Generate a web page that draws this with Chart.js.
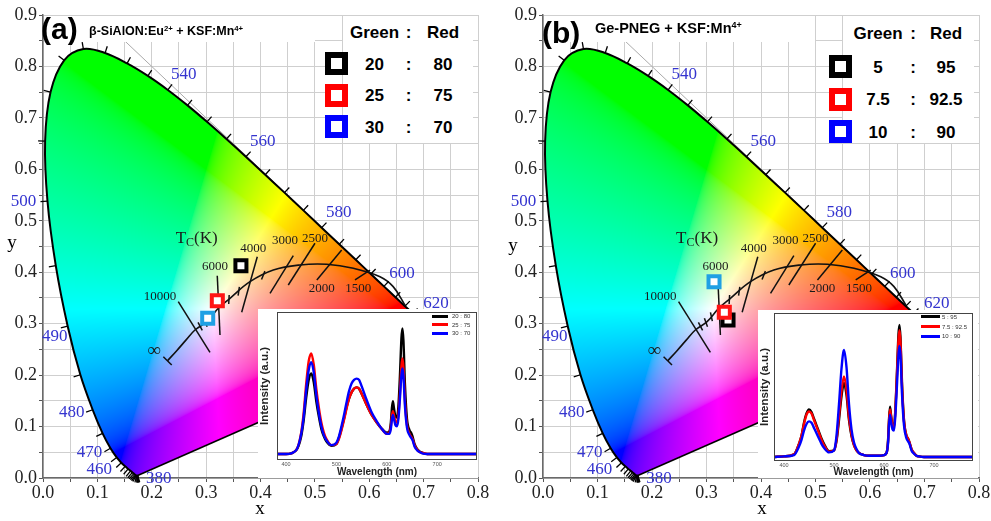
<!DOCTYPE html>
<html><head><meta charset="utf-8">
<script src="https://cdn.jsdelivr.net/npm/chart.js@4.4.1/dist/chart.umd.min.js"></script>
<style>
html,body{margin:0;padding:0;background:#fff}
body{width:991px;height:521px;position:relative;overflow:hidden;font-family:"Liberation Sans",Arial,sans-serif;color:#000}
canvas{position:absolute;display:block}
.o{position:absolute;white-space:nowrap;line-height:1}
.c{transform:translate(-50%,-50%)}
.l{transform:translate(0,-50%)}
.wb{position:absolute;background:#fff}
.sq{position:absolute;box-sizing:border-box;width:23px;height:23px;border:6.5px solid #000;background:#fff}
.lg{font-size:17px;font-weight:bold}
.serif{font-family:"Liberation Serif","Times New Roman",serif}
.il{position:absolute;height:3px}
.it{font-size:6px;color:#333}
sup{font-size:62%;vertical-align:0.55em;line-height:0}
</style></head><body>
<canvas id="cieA" width="495" height="521" style="left:0;top:0"></canvas>
<canvas id="cieB" width="491" height="521" style="left:500px;top:0"></canvas>
<div class="wb" style="left:44px;top:16px;width:271px;height:26px"></div>
<div class="wb" style="left:343px;top:16px;width:130px;height:127px"></div>
<div class="wb" style="left:544px;top:16px;width:271px;height:26px"></div>
<div class="wb" style="left:843px;top:16px;width:131px;height:127px"></div>
<canvas id="specA" width="220" height="169" style="left:258px;top:309px"></canvas>
<canvas id="specB" width="220" height="168" style="left:758px;top:310px"></canvas>
<div id="ov"></div>
<script>
// ===================== DATA =====================
// CIE 1931 spectral locus (wavelength nm, x, y)
const locusWL = [380,385,390,395,400,405,410,415,420,425,430,435,440,445,450,455,460,465,470,475,480,485,490,495,500,505,510,515,520,525,530,535,540,545,550,555,560,565,570,575,580,585,590,595,600,605,610,615,620,625,630,635,640,650,660,680,700];
const locusX = [0.1741,0.1740,0.1738,0.1736,0.1733,0.1730,0.1726,0.1721,0.1714,0.1703,0.1689,0.1669,0.1644,0.1611,0.1566,0.1510,0.1440,0.1355,0.1241,0.1096,0.0913,0.0687,0.0454,0.0235,0.0082,0.0039,0.0139,0.0389,0.0743,0.1142,0.1547,0.1929,0.2296,0.2658,0.3016,0.3373,0.3731,0.4087,0.4441,0.4788,0.5125,0.5448,0.5752,0.6029,0.6270,0.6482,0.6658,0.6801,0.6915,0.7006,0.7079,0.7140,0.7190,0.7260,0.7300,0.7334,0.7347];
const locusY = [0.0050,0.0050,0.0049,0.0049,0.0048,0.0048,0.0048,0.0048,0.0051,0.0058,0.0069,0.0086,0.0109,0.0138,0.0177,0.0227,0.0297,0.0399,0.0578,0.0868,0.1327,0.2007,0.2950,0.4127,0.5384,0.6548,0.7502,0.8120,0.8338,0.8262,0.8059,0.7816,0.7543,0.7243,0.6923,0.6589,0.6245,0.5896,0.5547,0.5202,0.4866,0.4544,0.4242,0.3965,0.3725,0.3514,0.3340,0.3197,0.3083,0.2993,0.2920,0.2859,0.2809,0.2740,0.2700,0.2666,0.2653];
const locusLabelWL = [380,460,470,480,490,500,540,560,580,600,620];

// Planckian locus
const planckX = [0.229,0.2455,0.2628,0.2795,0.3011,0.3224,0.3439,0.3807,0.4236,0.4726,0.5218,0.5707,0.6198,0.644,0.667];
const planckY = [0.228,0.247,0.268,0.2877,0.3039,0.3299,0.3493,0.3816,0.4043,0.4141,0.4154,0.4077,0.3913,0.372,0.334];
const planckTickX = [0.289,0.299,0.309,0.342,0.360,0.405];
const planckTickY = [0.2948,0.3023,0.3135,0.347,0.363,0.394];

// Isotemperature lines
const isoLabels = ['∞','10000','6000','4000','3000','2500','2000','1500'];
const isoX1 = [0.2213,0.2488,0.3205,0.3941,0.4603,0.5002,0.5493,0.6014];
const isoY1 = [0.2358,0.3429,0.3933,0.4302,0.4321,0.4563,0.4432,0.4043];
const isoX2 = [0.2367,0.3071,0.3255,0.3654,0.4175,0.4511,0.5036,0.5738];
const isoY2 = [0.2197,0.2443,0.2780,0.3221,0.3590,0.3752,0.3849,0.3849];

// x + y = 1 reference line
const refLineX = [0.15,0.735];
const refLineY = [0.85,0.265];

// Axis ticks
const xGridVals = [0,0.05,0.1,0.15,0.2,0.25,0.3,0.35,0.4,0.45,0.5,0.55,0.6,0.65,0.7,0.75,0.8];
const xTickLabels = ['0.0','','0.1','','0.2','','0.3','','0.4','','0.5','','0.6','','0.7','','0.8'];
const yGridVals = [0,0.05,0.1,0.15,0.2,0.25,0.3,0.35,0.4,0.45,0.5,0.55,0.6,0.65,0.7,0.75,0.8,0.85,0.9];
const yTickLabels = ['0.0','','0.1','','0.2','','0.3','','0.4','','0.5','','0.6','','0.7','','0.8','','0.9'];

// Panel (a): beta-SiAlON + KSF
const greenA = ['20','25','30'];
const redA = ['80','75','70'];
const cieXA = [0.364,0.3206,0.3029];
const cieYA = [0.4127,0.3447,0.3105];
// Panel (b): Ge-PNEG + KSF
const greenB = ['5','7.5','10'];
const redB = ['95','92.5','90'];
const cieXB = [0.3395,0.3327,0.3138];
const cieYB = [0.307,0.3221,0.3816];

// Emission spectra (normalised intensity)
const specWL = [380,400,420,430,435,440,445,450,455,460,465,470,475,480,490,500,505,510,515,520,525,530,535,540,545,550,560,570,580,590,600,605,608,610,612,614,617,620,623,626,629,631,633,636,640,645,648,651,655,660,665,670,680,700,740,780];
const specA1 = [0,0,0.03,0.14,0.27,0.45,0.59,0.64,0.57,0.42,0.30,0.20,0.14,0.10,0.065,0.08,0.13,0.20,0.28,0.37,0.44,0.49,0.52,0.53,0.52,0.48,0.39,0.31,0.25,0.20,0.17,0.18,0.25,0.36,0.42,0.37,0.30,0.29,0.38,0.62,0.92,1.0,0.90,0.55,0.28,0.19,0.17,0.14,0.08,0.04,0.02,0.01,0,0,0,0];
const specA2 = [0,0,0.03,0.17,0.33,0.56,0.74,0.80,0.71,0.52,0.37,0.25,0.17,0.12,0.07,0.08,0.12,0.19,0.27,0.36,0.44,0.49,0.52,0.53,0.52,0.48,0.39,0.31,0.25,0.20,0.16,0.17,0.22,0.30,0.34,0.31,0.26,0.25,0.31,0.48,0.70,0.76,0.69,0.42,0.23,0.16,0.14,0.12,0.07,0.035,0.015,0.01,0,0,0,0];
const specA3 = [0,0,0.03,0.16,0.30,0.51,0.67,0.73,0.65,0.47,0.33,0.22,0.15,0.11,0.07,0.09,0.14,0.22,0.31,0.41,0.50,0.56,0.59,0.60,0.59,0.54,0.43,0.33,0.26,0.20,0.16,0.16,0.20,0.27,0.31,0.28,0.23,0.22,0.28,0.44,0.63,0.68,0.62,0.38,0.21,0.15,0.13,0.11,0.06,0.03,0.015,0.005,0,0,0,0];
const specB1 = [0,0.005,0.02,0.10,0.16,0.26,0.33,0.36,0.34,0.29,0.24,0.19,0.14,0.10,0.045,0.05,0.12,0.28,0.46,0.56,0.47,0.28,0.16,0.09,0.05,0.03,0.015,0.01,0.01,0.01,0.015,0.03,0.12,0.28,0.38,0.32,0.24,0.23,0.38,0.65,0.93,1.0,0.90,0.56,0.28,0.16,0.14,0.11,0.06,0.03,0.01,0.005,0,0,0,0];
const specB2 = [0,0.005,0.02,0.10,0.16,0.25,0.32,0.345,0.33,0.28,0.23,0.18,0.13,0.09,0.04,0.05,0.13,0.31,0.50,0.61,0.51,0.30,0.17,0.09,0.05,0.03,0.015,0.01,0.01,0.01,0.015,0.03,0.11,0.27,0.36,0.31,0.23,0.22,0.37,0.63,0.89,0.96,0.87,0.54,0.27,0.16,0.14,0.11,0.06,0.03,0.01,0.005,0,0,0,0];
const specB3 = [0,0.005,0.015,0.08,0.13,0.20,0.25,0.27,0.26,0.22,0.18,0.14,0.10,0.07,0.035,0.05,0.16,0.40,0.67,0.81,0.68,0.40,0.21,0.11,0.06,0.03,0.015,0.01,0.01,0.01,0.015,0.03,0.10,0.24,0.32,0.27,0.21,0.20,0.33,0.55,0.78,0.84,0.77,0.48,0.24,0.14,0.12,0.10,0.05,0.025,0.01,0.005,0,0,0,0];
const specTicks = [400,500,600,700];

// Annotation anchors (data coordinates)
const tcLabelX = [0.2041,0.2152,0.3163,0.3867,0.4451,0.5002,0.5126,0.5799];
const tcLabelY = [0.2469,0.3525,0.4108,0.4465,0.4607,0.466,0.3688,0.3688];
const tcTitleXY = [0.2827,0.466];

// ===================== STYLE =====================
const markerColors = ['#000000','#ff1414','#1fa0e4'];
const legendColors = ['#000000','#ff0000','#0000ff'];
const specColors = ['#000000','#ff0000','#0000ff'];
const wlColor = '#3434cf';
const wlOffset = {380:[21,3],460:[-22,7],470:[-21,4],480:[-21,3],490:[-13,10],500:[-24,1],540:[16,-15],560:[17,-15],580:[17,-15],600:[18,-13],620:[17,-16]};
const planckTickRot = [62,70,78,93,98,112];
const SERIF = '"Liberation Serif","Times New Roman",serif';
const SANS = '"Liberation Sans",Arial,sans-serif';

// ===================== HELPERS =====================
function gam(v){ return v<=0.0031308 ? 12.92*v : 1.055*Math.pow(v,1/2.4)-0.055; }
function chromaRGB(x,y){
  if (y < 1e-4) y = 1e-4;
  const X = x/y, Z = (1-x-y)/y;
  let r = 3.2406*X - 1.5372 - 0.4986*Z;
  let g = -0.9689*X + 1.8758 + 0.0415*Z;
  let b = 0.0557*X - 0.2040 + 1.0570*Z;
  r = Math.max(r,0); g = Math.max(g,0); b = Math.max(b,0);
  const m = Math.max(r,g,b) || 1;
  return [gam(r/m)*255, gam(g/m)*255, gam(b/m)*255];
}
function locusIndex(chart){ return chart.data.datasets.findIndex(d => d.label === 'Spectral locus'); }

const cieFill = {
  id:'cieFill',
  beforeDatasetsDraw(chart){
    const idx = locusIndex(chart);
    const meta = chart.getDatasetMeta(idx);
    const pts = meta.data;
    if (meta.dataset && meta.dataset.updateControlPoints) meta.dataset.updateControlPoints(chart.chartArea, 'x');
    const ctx = chart.ctx, a = chart.chartArea, sx = chart.scales.x, sy = chart.scales.y;
    const w = Math.ceil(a.right - a.left), h = Math.ceil(a.bottom - a.top);
    const off = document.createElement('canvas'); off.width = w; off.height = h;
    const octx = off.getContext('2d'); const img = octx.createImageData(w, h); const d = img.data;
    const xs = new Float64Array(w); for (let i=0;i<w;i++) xs[i] = sx.getValueForPixel(a.left+i+0.5);
    for (let j=0;j<h;j++){
      const yv = sy.getValueForPixel(a.top+j+0.5);
      for (let i=0;i<w;i++){
        const c = chromaRGB(xs[i], yv); const p = (j*w+i)*4;
        d[p]=c[0]; d[p+1]=c[1]; d[p+2]=c[2]; d[p+3]=255;
      }
    }
    octx.putImageData(img,0,0);
    ctx.save(); ctx.beginPath(); ctx.moveTo(pts[0].x, pts[0].y);
    for (let k=1;k<pts.length;k++){
      const p = pts[k-1], q = pts[k];
      if (p.cp2x !== undefined && q.cp1x !== undefined) ctx.bezierCurveTo(p.cp2x,p.cp2y,q.cp1x,q.cp1y,q.x,q.y);
      else ctx.lineTo(q.x,q.y);
    }
    ctx.closePath(); ctx.clip(); ctx.drawImage(off, a.left, a.top); ctx.restore();
  },
  afterDatasetsDraw(chart){
    // outward wavelength ticks on the spectral locus
    const ctx = chart.ctx, sx = chart.scales.x, sy = chart.scales.y;
    const pts = chart.getDatasetMeta(locusIndex(chart)).data;
    const cx = sx.getPixelForValue(0.33), cy = sy.getPixelForValue(0.33);
    ctx.save(); ctx.strokeStyle = '#000'; ctx.lineWidth = 1.3;
    for (let k=0;k<pts.length;k++){
      const pr = pts[Math.max(k-1,0)], nx_ = pts[Math.min(k+1,pts.length-1)];
      let tx = nx_.x-pr.x, ty = nx_.y-pr.y; const len = Math.hypot(tx,ty); if (len < 1e-6) continue;
      let nx = -ty/len, ny = tx/len; const p = pts[k];
      if ((p.x-cx)*nx + (p.y-cy)*ny < 0){ nx=-nx; ny=-ny; }
      ctx.beginPath(); ctx.moveTo(p.x,p.y); ctx.lineTo(p.x+nx*7, p.y+ny*7); ctx.stroke();
    }
    // text annotations
    ctx.textAlign='center'; ctx.textBaseline='middle';
    ctx.font = '17px ' + SERIF; ctx.fillStyle = wlColor;
    locusLabelWL.forEach(wl => {
      const k = locusWL.indexOf(wl), o = wlOffset[wl];
      ctx.fillText(String(wl), sx.getPixelForValue(locusX[k])+o[0], sy.getPixelForValue(locusY[k])+o[1]);
    });
    ctx.fillStyle = '#1a1a1a';
    isoLabels.forEach((t,i) => {
      ctx.font = (t === '∞' ? '19px ' : '13px ') + SERIF;
      ctx.fillText(t, sx.getPixelForValue(tcLabelX[i]), sy.getPixelForValue(tcLabelY[i]));
    });
    // T_C(K)
    const tx0 = sx.getPixelForValue(tcTitleXY[0]), ty0 = sy.getPixelForValue(tcTitleXY[1]);
    ctx.textAlign='left';
    ctx.font = '17px ' + SERIF; const wT = ctx.measureText('T').width, wK = ctx.measureText('(K)').width;
    ctx.font = '12px ' + SERIF; const wC = ctx.measureText('C').width;
    let xx = tx0 - (wT+wC+wK)/2;
    ctx.font = '17px ' + SERIF; ctx.fillText('T', xx, ty0); xx += wT;
    ctx.font = '12px ' + SERIF; ctx.fillText('C', xx, ty0+5); xx += wC;
    ctx.font = '17px ' + SERIF; ctx.fillText('(K)', xx, ty0);
    ctx.restore();
  }
};

function cieChart(id, padRight, mx, my){
  const datasets = [];
  datasets.push({label:'Samples', data: mx.map((x,i)=>({x, y:my[i]})), showLine:false, pointStyle:'rect', pointRadius:7.8, pointBorderWidth:4, pointBorderColor: markerColors, pointBackgroundColor:'#fff', order:0});
  isoLabels.forEach((t,i)=>{
    datasets.push({label:'Isotherm '+t, data:[{x:isoX1[i],y:isoY1[i]},{x:isoX2[i],y:isoY2[i]}], showLine:true, borderColor:'#111', borderWidth:1.5, pointRadius:0, order:1});
  });
  datasets.push({label:'Planckian locus', data: planckX.map((x,i)=>({x, y:planckY[i]})), showLine:true, tension:0.4, borderColor:'#111', borderWidth:1.6, pointRadius:0, order:1});
  datasets.push({label:'Planckian ticks', data: planckTickX.map((x,i)=>({x, y:planckTickY[i]})), showLine:false, pointStyle:'line', pointRadius:4.5, pointBorderWidth:1.5, pointBorderColor:'#111', pointRotation: planckTickRot, order:1});
  datasets.push({label:'Spectral locus', data: locusX.map((x,i)=>({x, y:locusY[i]})), showLine:true, tension:0.35, borderColor:'#000', borderWidth:2, pointRadius:0, order:2});
  const n = locusX.length - 1;
  datasets.push({label:'Purple line', data:[{x:locusX[n],y:locusY[n]},{x:locusX[0],y:locusY[0]}], showLine:true, borderColor:'#000', borderWidth:1.6, pointRadius:0, order:2});
  datasets.push({label:'x+y=1', data: refLineX.map((x,i)=>({x, y:refLineY[i]})), showLine:true, borderColor:'#aaaaaa', borderWidth:1, pointRadius:0, order:3});

  return new Chart(document.getElementById(id), {
    type:'scatter',
    data:{datasets},
    options:{
      responsive:false, animation:false, events:[], devicePixelRatio:1,
      layout:{padding:{top:15, right:padRight, left:0, bottom:0}},
      plugins:{legend:{display:false}, tooltip:{enabled:false}},
      scales:{
        x:{type:'linear', min:0, max:0.8,
          afterBuildTicks:s=>{ s.ticks = xGridVals.map(v=>({value:v})); },
          afterFit:s=>{ s.height = 43; },
          grid:{color:'#cfcfcf', lineWidth:1, tickLength:4, tickColor:'#555'},
          border:{display:true, color:'#6a6a6a', width:1.5},
          ticks:{autoSkip:false, maxRotation:0, padding:0, color:'#222', font:{family:SERIF, size:18}, callback:(v,i)=>xTickLabels[i]}
        },
        y:{type:'linear', min:0, max:0.9,
          afterBuildTicks:s=>{ s.ticks = yGridVals.map(v=>({value:v})); },
          afterFit:s=>{ s.width = 43; },
          grid:{color:'#cfcfcf', lineWidth:1, tickLength:4, tickColor:'#555'},
          border:{display:true, color:'#6a6a6a', width:1.5},
          ticks:{autoSkip:false, padding:2, color:'#222', font:{family:SERIF, size:18}, callback:(v,i)=>yTickLabels[i]}
        }
      }
    },
    plugins:[cieFill]
  });
}

const frameBg = {
  id:'frameBg',
  beforeDraw(chart){ const c=chart.ctx; c.save(); c.fillStyle='#fff'; c.fillRect(0,0,chart.width,chart.height); c.restore(); },
  afterDraw(chart){ const c=chart.ctx, a=chart.chartArea; c.save(); c.strokeStyle='#444'; c.lineWidth=1; c.strokeRect(Math.round(a.left)+0.5, Math.round(a.top)+0.5, Math.round(a.right-a.left)-1, Math.round(a.bottom-a.top)-1); c.restore(); }
};

function specChart(id, series, names, yMin, yMax, xMin, xMax, yAxisW, padR, padT, xAxisH){
  const datasets = series.map((s,i)=>({label:names[i], data: specWL.map((w,k)=>({x:w, y:s[k]})), showLine:true, borderColor:specColors[i], borderWidth:2.4, pointRadius:0, cubicInterpolationMode:'monotone', order: 2-i}));
  return new Chart(document.getElementById(id), {
    type:'scatter',
    data:{datasets},
    options:{
      responsive:false, animation:false, events:[], devicePixelRatio:1,
      layout:{padding:{top:padT, right:padR, left:0, bottom:0}},
      plugins:{legend:{display:false}, tooltip:{enabled:false}},
      scales:{
        x:{type:'linear', min:xMin, max:xMax,
          afterBuildTicks:s=>{ s.ticks = specTicks.map(v=>({value:v})); },
          afterFit:s=>{ s.height = xAxisH; },
          grid:{display:false, drawTicks:false, tickLength:0}, border:{display:false},
          ticks:{autoSkip:false, maxRotation:0, padding:1, color:'#555', font:{family:SANS, size:5.5}},
          title:{display:true, text:'Wavelength (nm)', color:'#222', padding:0, font:{family:SANS, size:10, weight:'bold'}}
        },
        y:{type:'linear', min:yMin, max:yMax,
          afterFit:s=>{ s.width = yAxisW; },
          grid:{display:false, drawTicks:false, tickLength:0}, border:{display:false},
          ticks:{display:false},
          title:{display:true, text:'Intensity (a.u.)', color:'#222', padding:0, font:{family:SANS, size:11.5, weight:'bold'}}
        }
      }
    },
    plugins:[frameBg]
  });
}

cieChart('cieA', 17, cieXA, cieYA);
cieChart('cieB', 12, cieXB, cieYB);
const namesA = greenA.map((g,i)=>g+' : '+redA[i]);
const namesB = greenB.map((g,i)=>g+' : '+redB[i]);
specChart('specA', [specA1,specA2,specA3], namesA, -0.048, 1.13, 382, 779, 19, 1, 3, 18);
specChart('specB', [specB1,specB2,specB3], namesB, -0.03, 1.09, 380, 778, 16, 5, 3, 17);

// ===================== OVERLAY TEXT =====================
const ov = document.getElementById('ov');
function txt(html, x, y, cls, style){ const d=document.createElement('div'); d.className='o '+cls; d.style.left=x+'px'; d.style.top=y+'px'; if (style) d.style.cssText += style; d.innerHTML=html; ov.appendChild(d); return d; }
function panelOverlay(px){
  const {letter, letterX, letterY, sub, subX, subY, subSize, gX, cX, rX, hY, sqX, rowY, green, red, yLab, xLab, ilX, ilW, itX, ilY, names} = px;
  txt('('+letter+')', letterX, letterY, 'l', 'font-size:30px;font-weight:bold;');
  txt(sub, subX, subY, 'l', 'font-size:'+subSize+'px;font-weight:bold;');
  txt('Green', gX, hY, 'c lg'); txt(':', cX, hY, 'c lg'); txt('Red', rX, hY, 'c lg');
  rowY.forEach((y,i)=>{
    const s=document.createElement('div'); s.className='sq'; s.style.left=sqX+'px'; s.style.top=(y-11.5)+'px'; s.style.borderColor=legendColors[i]; ov.appendChild(s);
    txt(green[i], gX, y, 'c lg'); txt(':', cX, y, 'c lg'); txt(red[i], rX, y, 'c lg');
  });
  txt('y', yLab[0], yLab[1], 'c serif', 'font-size:19px;');
  txt('x', xLab[0], xLab[1], 'c serif', 'font-size:19px;');
  ilY.forEach((y,i)=>{
    const l=document.createElement('div'); l.className='il'; l.style.left=ilX+'px'; l.style.width=ilW+'px'; l.style.top=(y-1.5)+'px'; l.style.background=specColors[i]; ov.appendChild(l);
    txt(names[i], itX, y, 'l it');
  });
}
panelOverlay({letter:'a', letterX:41, letterY:29, sub:'β-SiAlON:Eu<sup>2+</sup> + KSF:Mn<sup>4+</sup>', subX:89, subY:31, subSize:12.5,
  gX:374.5, cX:408.5, rX:443, hY:32, sqX:325, rowY:[63.5,95,126.7], green:greenA, red:redA,
  yLab:[12,241], xLab:[260,507], ilX:432, ilW:16, itX:452, ilY:[316,324.5,333.3], names:namesA});
panelOverlay({letter:'b', letterX:542, letterY:33, sub:'Ge-PNEG + KSF:Mn<sup>4+</sup>', subX:595, subY:28, subSize:14.5,
  gX:878, cX:913, rX:946, hY:33, sqX:829, rowY:[66.7,99,131.7], green:greenB, red:redB,
  yLab:[513,244], xLab:[762,507], ilX:921, ilW:19, itX:942, ilY:[316.7,326.7,336], names:namesB});
</script>
</body></html>
